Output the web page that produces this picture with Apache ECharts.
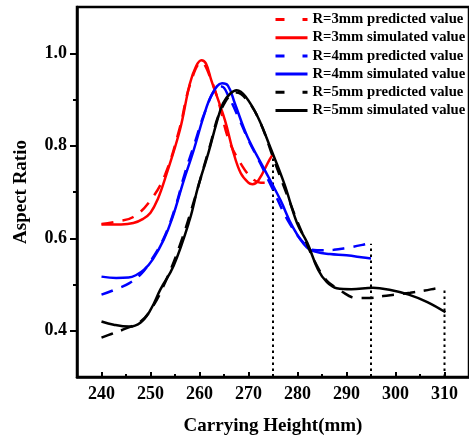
<!DOCTYPE html>
<html>
<head>
<meta charset="utf-8">
<script src="https://cdn.jsdelivr.net/npm/echarts@6/dist/echarts.min.js"></script>
<style>
  html, body { margin: 0; padding: 0; background: #fff; }
  #chart { width: 469px; height: 441px; }
</style>
</head>
<body>
<div id="chart"></div>
<script>
// ---- data ----
const xTicks = [240, 250, 260, 270, 280, 290, 300, 310];
const xMinorTicks = [245, 255, 265, 275, 285, 295, 305];
const yTicks = [0.4, 0.6, 0.8, 1.0];
const yMinorTicks = [0.5, 0.7, 0.9];

const seriesNames = [
  'R=3mm predicted value', 'R=3mm simulated value',
  'R=4mm predicted value', 'R=4mm simulated value',
  'R=5mm predicted value', 'R=5mm simulated value'
];

const redPredX = [240, 243, 246.5, 250, 253, 256, 258, 260.4, 262.4, 264, 266, 268.8, 271, 272.5, 275];
const redPredY = [0.631, 0.636, 0.646, 0.682, 0.738, 0.840, 0.930, 0.980, 0.942, 0.890, 0.812, 0.755, 0.727, 0.720, 0.720];

const redSimX = [240, 244, 246.5, 248.5, 250, 251.5, 253, 256, 258, 259.3, 260.4, 261.3, 262.4, 265.2, 266.8, 268.4, 270, 270.8, 272, 274.3, 275];
const redSimY = [0.630, 0.630, 0.633, 0.642, 0.655, 0.685, 0.730, 0.834, 0.933, 0.972, 0.985, 0.978, 0.942, 0.855, 0.790, 0.741, 0.720, 0.717, 0.725, 0.770, 0.782];

const bluePredX = [240, 243, 245.7, 248, 250, 252.7, 255, 257, 259, 261, 263.4, 264.5, 266, 268, 270, 272.5, 275, 278.5, 282.3, 284, 287.4, 290, 293.4, 295];
const bluePredY = [0.478, 0.490, 0.503, 0.522, 0.550, 0.600, 0.665, 0.740, 0.805, 0.870, 0.925, 0.928, 0.905, 0.860, 0.812, 0.760, 0.705, 0.630, 0.579, 0.574, 0.575, 0.579, 0.586, 0.590];

const blueSimX = [240, 243, 245.5, 247, 248.7, 250.5, 252.7, 254.5, 256.7, 258.8, 260.8, 262.5, 264.6, 265.8, 267.2, 269.8, 273.3, 276.5, 279, 281.9, 284, 286.6, 290, 293, 295];
const blueSimY = [0.517, 0.514, 0.515, 0.520, 0.532, 0.555, 0.597, 0.645, 0.722, 0.790, 0.862, 0.910, 0.935, 0.930, 0.892, 0.819, 0.748, 0.683, 0.625, 0.580, 0.570, 0.566, 0.563, 0.559, 0.556];

const blackPredX = [240, 242, 245, 248, 250.5, 253, 256, 259, 262, 264.5, 267.5, 270, 272.5, 275, 278, 281, 284, 286, 288, 289.5, 291, 292.5, 295, 297.5, 300, 303, 306, 308.5, 310];
const blackPredY = [0.385, 0.393, 0.405, 0.420, 0.453, 0.505, 0.585, 0.685, 0.795, 0.880, 0.915, 0.895, 0.848, 0.775, 0.690, 0.610, 0.540, 0.508, 0.492, 0.482, 0.473, 0.471, 0.471, 0.475, 0.478, 0.482, 0.487, 0.492, 0.494];

const blackSimX = [240, 242.5, 245.6, 248, 250, 252, 254.7, 258, 259.7, 261.8, 263.5, 264.8, 266.3, 267.6, 269.5, 271.9, 274.5, 277.3, 279.9, 282, 284.2, 286, 288, 291, 295.4, 299, 302.7, 306.5, 310.2];
const blackSimY = [0.420, 0.413, 0.409, 0.418, 0.445, 0.489, 0.540, 0.640, 0.711, 0.784, 0.850, 0.892, 0.913, 0.920, 0.905, 0.862, 0.795, 0.718, 0.633, 0.590, 0.532, 0.505, 0.492, 0.490, 0.493, 0.488, 0.478, 0.462, 0.440];

// vertical dotted drop lines: x position and top value
const dropX = [275, 295, 310];
const dropTop = [0.784, 0.588, 0.494];

// ---- build ----
const FONT = '"Liberation Serif", "Times New Roman", serif';
function zip(xs, ys) { return xs.map((x, i) => [x, ys[i]]); }

const curveDefs = [
  { name: seriesNames[0], x: redPredX, y: redPredY, color: '#ff0000', dashed: true },
  { name: seriesNames[1], x: redSimX, y: redSimY, color: '#ff0000', dashed: false },
  { name: seriesNames[2], x: bluePredX, y: bluePredY, color: '#0000ff', dashed: true },
  { name: seriesNames[3], x: blueSimX, y: blueSimY, color: '#0000ff', dashed: false },
  { name: seriesNames[4], x: blackPredX, y: blackPredY, color: '#000000', dashed: true },
  { name: seriesNames[5], x: blackSimX, y: blackSimY, color: '#000000', dashed: false }
];

const series = [];
dropX.forEach((x, i) => {
  series.push({
    type: 'line', name: 'drop' + i, silent: true, symbol: 'none',
    data: [[x, 0.3], [x, dropTop[i]]],
    lineStyle: { color: '#000', width: 2, type: [2.5, 3.5] },
    z: 1
  });
});
curveDefs.forEach(d => {
  series.push({
    type: 'line', name: d.name, smooth: 0.4, symbol: 'none', showSymbol: false,
    data: zip(d.x, d.y),
    lineStyle: { color: d.color, width: 2.5, type: d.dashed ? [12, 9] : 'solid' },
    itemStyle: { color: d.color },
    z: 3
  });
});

const legendData = curveDefs.map(d => ({
  name: d.name,
  itemStyle: { color: 'rgba(0,0,0,0)', borderWidth: 0, opacity: 0 },
  lineStyle: { color: d.color, width: 3, type: d.dashed ? [9, 18] : 'solid' }
}));

const chart = echarts.init(document.getElementById('chart'), null, { renderer: 'canvas' });
chart.setOption({
  animation: false,
  backgroundColor: '#fff',
  grid: {
    left: 77, top: 7, bottom: 64, right: -6,
    show: true, borderColor: '#000', borderWidth: 2.5, backgroundColor: 'transparent'
  },
  legend: {
    data: legendData,
    orient: 'vertical',
    left: 274, top: 12,
    padding: 0,
    itemWidth: 32, itemHeight: 14, itemGap: 3.2,
    textStyle: { fontFamily: FONT, fontWeight: 'bold', fontSize: 14.7, color: '#000' },
    selectedMode: false
  },
  xAxis: [{
    type: 'value', min: 235, max: 315,
    name: 'Carrying Height(mm)', nameLocation: 'middle', nameGap: 40,
    nameTextStyle: { fontFamily: FONT, fontWeight: 'bold', fontSize: 19, color: '#000' },
    axisLine: { onZero: false, lineStyle: { color: '#000', width: 2.5 } },
    axisTick: { inside: true, length: 5, lineStyle: { color: '#000', width: 2 }, customValues: xTicks },
    axisLabel: { customValues: xTicks, margin: 8, fontFamily: FONT, fontWeight: 'bold', fontSize: 18, color: '#000' },
    splitLine: { show: false }
  }, {
    type: 'value', min: 235, max: 315, position: 'bottom',
    axisLine: { show: false, onZero: false },
    axisTick: { inside: true, length: 3, lineStyle: { color: '#000', width: 2 }, customValues: xMinorTicks },
    axisLabel: { show: false },
    splitLine: { show: false }
  }],
  yAxis: [{
    type: 'value', min: 0.3, max: 1.1,
    name: 'Aspect Ratio', nameLocation: 'middle', nameGap: 46,
    nameTextStyle: { fontFamily: FONT, fontWeight: 'bold', fontSize: 19, color: '#000' },
    axisLine: { onZero: false, lineStyle: { color: '#000', width: 2.5 } },
    axisTick: { inside: false, length: 7, lineStyle: { color: '#000', width: 2 }, customValues: yTicks },
    axisLabel: { customValues: yTicks, margin: 10, fontFamily: FONT, fontWeight: 'bold', fontSize: 18, color: '#000',
      formatter: v => v.toFixed(1) },
    splitLine: { show: false }
  }, {
    type: 'value', min: 0.3, max: 1.1, position: 'left',
    axisLine: { show: false, onZero: false },
    axisTick: { inside: false, length: 4, lineStyle: { color: '#000', width: 2 }, customValues: yMinorTicks },
    axisLabel: { show: false },
    splitLine: { show: false }
  }],
  series: series
});
</script>
</body>
</html>
